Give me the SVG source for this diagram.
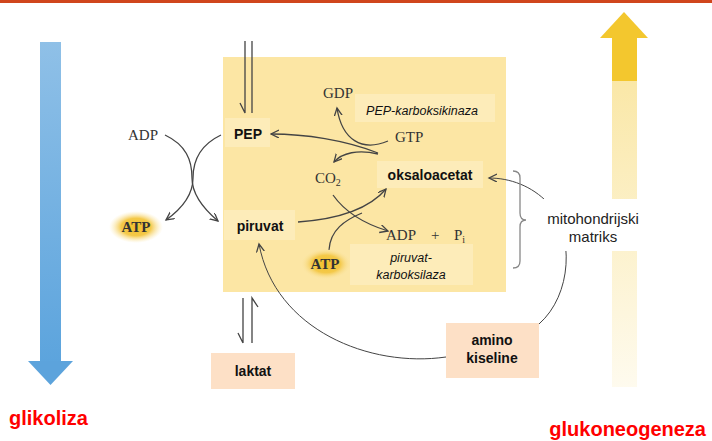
<svg xmlns="http://www.w3.org/2000/svg" width="712" height="441" viewBox="0 0 712 441">
<defs>
<style>
.ser{font-family:"Liberation Serif","Times New Roman",serif;font-size:15px;fill:#333}
.lbl{font-family:"Liberation Sans",Arial,sans-serif;font-size:14px;font-weight:bold;fill:#111;text-anchor:middle}
.ital{font-family:"Liberation Sans",Arial,sans-serif;font-size:12.5px;font-style:italic;fill:#111;text-anchor:middle}
.reg{font-family:"Liberation Sans",Arial,sans-serif;font-size:15px;fill:#222;text-anchor:middle}
.red{font-family:"Liberation Sans",Arial,sans-serif;font-size:20px;font-weight:bold;fill:#ff0000}
.ln{fill:none;stroke:#444;stroke-width:1.3}
.thin{fill:none;stroke:#444;stroke-width:1}
.box{fill:#fdecb9}
.peach{fill:#fde0c6}
</style>
<marker id="ah" markerWidth="10" markerHeight="10" refX="8" refY="4" orient="auto" markerUnits="userSpaceOnUse">
<path d="M0,0 L8,4 L0,8" fill="none" stroke="#444" stroke-width="1.3"/>
</marker>
<linearGradient id="blue" x1="0" y1="0" x2="0" y2="1">
<stop offset="0" stop-color="#8fc0e7"/>
<stop offset="1" stop-color="#5ca4dd"/>
</linearGradient>
<linearGradient id="fade" x1="0" y1="0" x2="0" y2="1">
<stop offset="0" stop-color="#f3c72e" stop-opacity="0.42"/>
<stop offset="1" stop-color="#f3c72e" stop-opacity="0.08"/>
</linearGradient>
<radialGradient id="glow">
<stop offset="0" stop-color="#f2c02a"/>
<stop offset="0.55" stop-color="#f4c94a"/>
<stop offset="1" stop-color="#fbe9b0" stop-opacity="0"/>
</radialGradient>
</defs>
<rect x="0" y="0" width="712" height="441" fill="#fff"/>
<rect x="0" y="0" width="712" height="3" fill="#d0461c"/>

<g id="glikoliza-arrow">
<rect x="40" y="42" width="21" height="320" fill="url(#blue)"/>
<polygon points="28,361 73,361 50.5,385" fill="#5ca3dc"/>
<text class="red" x="9" y="425">glikoliza</text>
</g>

<g id="glukoneogeneza-arrow">
<rect x="612" y="81" width="25" height="306" fill="url(#fade)"/>
<rect x="612" y="38" width="25" height="43" fill="#f3c72e"/>
<polygon points="600,38 648,38 624,12" fill="#f3c72e"/>
<text class="red" x="706" y="436" text-anchor="end">glukoneogeneza</text>
</g>

<g id="matrix">
<rect x="223" y="57" width="283" height="235" fill="#fce6a4"/>
</g>

<g id="connectors">
<path class="ln" d="M245,41 L245,113 L240,103"/>
<path class="ln" d="M252,41 L252,113"/>
<path class="ln" d="M243,343 L243,298 M243,343 L238,333"/>
<path class="ln" d="M252,343 L252,298 L258,307"/>
<path class="ln" d="M165,135 C186,145 192,160 192,178 C192,196 205,210 218,221" marker-end="url(#ah)"/>
<path class="ln" d="M221,135 C200,145 193,160 193,178 C193,196 180,210 166,220" marker-end="url(#ah)"/>
<path class="ln" d="M378,153 C345,140 305,134 271,134" marker-end="url(#ah)"/>
<path class="ln" d="M388,141 C362,152 342,140 337,108" marker-end="url(#ah)"/>
<path class="ln" d="M378,154 C358,149 342,153 334,162" marker-end="url(#ah)"/>
<path class="ln" d="M298,222 C340,219 370,208 386,189" marker-end="url(#ah)"/>
<path class="ln" d="M329,250 C330,230 345,220 362,213"/>
<path class="ln" d="M333,195 C345,212 365,224 388,231" marker-end="url(#ah)"/>
<path class="thin" d="M446,357 C370,368 275,330 259,244" marker-end="url(#ah)"/>
<path class="thin" d="M539,324 C572,295 575,235 548,203 C532,186 510,178 489,178" marker-end="url(#ah)"/>
<path fill="none" stroke="#888" stroke-width="1.3" d="M513,171 Q520,171 520,178 L520,213 Q520,220 526,220 Q520,220 520,227 L520,261 Q520,268 513,268"/>
</g>

<g id="ADP-left"><text class="ser" x="128" y="140">ADP</text></g>
<g id="ATP-left">
<ellipse cx="136" cy="227" rx="27" ry="16" fill="url(#glow)"/>
<text class="ser" x="136" y="232" text-anchor="middle" font-weight="bold" font-size="16">ATP</text>
</g>
<g id="PEP"><rect class="box" x="225" y="118" width="45" height="29"/><text class="lbl" x="248" y="139">PEP</text></g>
<g id="piruvat"><rect class="box" x="224" y="210" width="71" height="30"/><text class="lbl" x="260" y="231">piruvat</text></g>
<g id="GDP"><text class="ser" x="323" y="98">GDP</text></g>
<g id="PEP-karboksikinaza"><rect class="box" x="355" y="94" width="140" height="28"/><text class="ital" x="422" y="115">PEP-karboksikinaza</text></g>
<g id="GTP"><text class="ser" x="395" y="142">GTP</text></g>
<g id="CO2"><text class="ser" x="315" y="183">CO<tspan font-size="10" dy="3">2</tspan></text></g>
<g id="oksaloacetat"><rect class="box" x="377" y="161" width="106" height="27"/><text class="lbl" x="430" y="180">oksaloacetat</text></g>
<g id="ADP-Pi"><text class="ser" x="386" y="240">ADP</text><text class="ser" x="431" y="240">+</text><text class="ser" x="454" y="240">P<tspan font-size="10" dy="3">i</tspan></text></g>
<g id="ATP-inner">
<ellipse cx="326" cy="264" rx="26" ry="16" fill="url(#glow)"/>
<text class="ser" x="325" y="269" text-anchor="middle" font-weight="bold" font-size="16">ATP</text>
</g>
<g id="piruvat-karboksilaza"><rect class="box" x="350" y="244" width="123" height="41"/><text class="ital" x="411" y="262">piruvat-</text><text class="ital" x="411" y="279">karboksilaza</text></g>
<g id="laktat"><rect class="peach" x="211" y="353" width="84" height="36"/><text class="lbl" x="253" y="376">laktat</text></g>
<g id="amino-kiseline"><rect class="peach" x="446" y="323" width="93" height="55"/><text class="lbl" x="492" y="345">amino</text><text class="lbl" x="492" y="363">kiseline</text></g>
<g id="mitohondrijski-matriks"><rect x="540" y="199" width="105" height="52" fill="#fff"/><text class="reg" x="593" y="224">mitohondrijski</text><text class="reg" x="593" y="242">matriks</text></g>
</svg>
